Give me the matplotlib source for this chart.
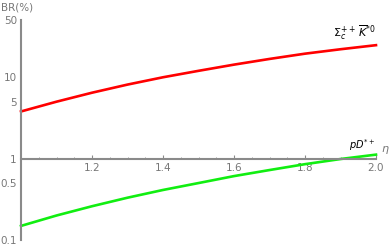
import numpy as np
import matplotlib
matplotlib.use("Agg")
import matplotlib.pyplot as plt

eta = [1.0, 1.1, 1.2, 1.3, 1.4, 1.5, 1.6, 1.7, 1.8, 1.9, 2.0]
br_sigma_kbar = [3.80, 5.01, 6.46, 8.13, 10.0, 12.0, 14.3, 16.8, 19.5, 22.1, 24.8]
br_p_dstar = [0.149, 0.20, 0.26, 0.331, 0.412, 0.501, 0.61, 0.724, 0.855, 0.989, 1.12]

xticks = [1.2, 1.4, 1.6, 1.8, 2.0]
yticks = [0.1, 0.5, 1, 5, 10, 50]
ylabels = ["0.1", "0.5", "1", "5", "10", "50"]

gray = "#8a8a8a"
tcol = "#777777"

fig = plt.figure(figsize=(3.92, 2.49), dpi=100)
ax = fig.add_axes([21 / 392, 9 / 249, 355 / 392, 219.6 / 249])

ax.plot(eta, br_sigma_kbar, color="red", lw=1.9, clip_on=False)
ax.plot(eta, br_p_dstar, color="#11ee11", lw=1.9, clip_on=False)

ax.set_yscale("log")
ax.set_xlim(1, 2)
ax.set_ylim(0.1, 50)

# axes cross at (1, 1) like the original
for s in ["top", "right"]:
    ax.spines[s].set_visible(False)
ax.spines["left"].set_position(("data", 1))
ax.spines["bottom"].set_position(("data", 1))
ax.spines["left"].set_color(gray)
ax.spines["bottom"].set_color(gray)
ax.spines["left"].set_linewidth(1.5)
ax.spines["bottom"].set_linewidth(1.5)

ax.set_xticks(xticks)
ax.set_xticklabels([f"{t:.1f}" for t in xticks])
ax.set_xticks(np.arange(1.05, 2.0, 0.05), minor=True)
ax.tick_params(axis="x", which="major", direction="in", length=3, width=0.8,
               color=gray, labelcolor=tcol, labelsize=7.5, pad=3)
ax.tick_params(axis="x", which="minor", direction="in", length=1.8, width=0.6, color=gray)

ax.set_yticks(yticks)
ax.set_yticklabels(ylabels)
ax.yaxis.set_minor_locator(matplotlib.ticker.NullLocator())
ax.tick_params(axis="y", which="major", length=0, labelcolor=tcol, labelsize=7.5, pad=3)

fig.text(1 / 392, 1 - 7 / 249, "BR(%)", color=tcol, fontsize=7.5, va="center", ha="left")
fig.text(381 / 392, 1 - 150 / 249, r"$\eta$", color=tcol, fontsize=8, va="center", ha="left")

ax.text(1.88, 27.5, r"$\Sigma_c^{++}\,\overline{K}^{*0}$", fontsize=8, ha="left", va="bottom")
ax.text(1.925, 1.17, r"$pD^{*+}$", fontsize=7, ha="left", va="bottom")

fig.savefig("out.png", dpi=100)
